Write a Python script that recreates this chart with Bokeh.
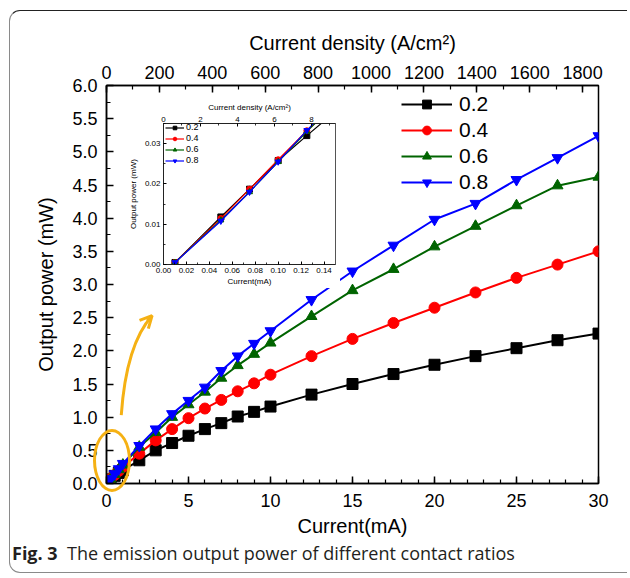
import numpy as np
from bokeh.plotting import figure
from bokeh.models import (LinearAxis, Range1d, SingleIntervalTicker, Legend, LegendItem,
                          Arrow, OpenHead, NumeralTickFormatter, Div)
from bokeh.layouts import column
from bokeh.embed import file_html
from bokeh.resources import INLINE

# ---------------- data ----------------
current_mA = [0.01, 0.05, 0.075, 0.1, 0.125, 0.25, 0.5, 0.75, 1, 2, 3, 4, 5, 6, 7, 8, 9, 10,
              12.5, 15, 17.5, 20, 22.5, 25, 27.5, 30]
power_02 = [0.0005, 0.0118, 0.0187, 0.0258, 0.032, 0.062, 0.115, 0.16, 0.20, 0.35, 0.50, 0.61,
            0.72, 0.82, 0.91, 1.01, 1.08, 1.16, 1.34, 1.50, 1.65, 1.79, 1.92, 2.04, 2.16, 2.26]
power_04 = [0.0005, 0.0114, 0.0187, 0.026, 0.0332, 0.066, 0.13, 0.19, 0.25, 0.45, 0.65, 0.82,
            0.985, 1.13, 1.26, 1.39, 1.51, 1.64, 1.92, 2.18, 2.42, 2.65, 2.88, 3.10, 3.30, 3.50]
power_06 = [0.0005, 0.011, 0.018, 0.0255, 0.033, 0.068, 0.14, 0.21, 0.28, 0.55, 0.77, 1.00,
            1.19, 1.38, 1.59, 1.78, 1.95, 2.12, 2.52, 2.91, 3.23, 3.57, 3.88, 4.19, 4.49, 4.62]
power_08 = [0.0005, 0.0108, 0.018, 0.0255, 0.0333, 0.070, 0.145, 0.22, 0.30, 0.57, 0.82, 1.05,
            1.25, 1.45, 1.70, 1.92, 2.11, 2.30, 2.77, 3.20, 3.59, 3.98, 4.22, 4.58, 4.91, 5.24]
ratio_labels = ["0.2", "0.4", "0.6", "0.8"]
series = [power_02, power_04, power_06, power_08]
colors = ["#000000", "#ff0000", "#006400", "#0000ff"]
markers = ["square", "circle", "triangle", "inverted_triangle"]
density_per_mA = 62.0   # A/cm^2 per mA (top axis conversion)
caption_bold = "Fig. 3"
caption_text = "The emission output power of different contact ratios"

FONT = "Liberation Sans"
ORANGE = "#f5b114"


def style_axis(ax, size, label_size, tick_len=7, minor_len=4):
    ax.major_tick_in = tick_len
    ax.major_tick_out = 0
    ax.minor_tick_in = minor_len
    ax.minor_tick_out = 0
    ax.axis_line_width = 1.5
    ax.major_tick_line_width = 1.5
    ax.minor_tick_line_width = 1.2
    ax.major_label_text_font = FONT
    ax.major_label_text_font_size = size
    ax.major_label_text_color = "#000000"
    ax.axis_label_text_font = FONT
    ax.axis_label_text_font_size = label_size
    ax.axis_label_text_font_style = "normal"
    ax.axis_label_text_color = "#000000"


# ---------------- main figure ----------------
p = figure(width=630, height=578, output_backend="svg", toolbar_location=None,
           x_range=Range1d(0, 30), y_range=Range1d(0, 6),
           x_axis_location=None, y_axis_location=None,
           min_border_left=106, min_border_right=32, min_border_top=85, min_border_bottom=95)
p.xgrid.visible = False
p.ygrid.visible = False
p.outline_line_color = "#000000"
p.outline_line_width = 1.5
p.background_fill_color = "white"
p.border_fill_color = "white"
p.extra_x_ranges = {"density": Range1d(0, 30 * density_per_mA)}

xb = LinearAxis(axis_label="Current(mA)", ticker=SingleIntervalTicker(interval=5, num_minor_ticks=5))
style_axis(xb, "18px", "20px")
xb.major_label_standoff = 10
xb.axis_label_standoff = 5
p.add_layout(xb, "below")

yl = LinearAxis(axis_label="Output power (mW)", ticker=SingleIntervalTicker(interval=0.5, num_minor_ticks=2),
                formatter=NumeralTickFormatter(format="0.0"))
style_axis(yl, "18px", "20px")
yl.major_label_standoff = 9
yl.axis_label_standoff = 12
p.add_layout(yl, "left")

xt = LinearAxis(x_range_name="density", axis_label="Current density (A/cm²)",
                ticker=SingleIntervalTicker(interval=200, num_minor_ticks=2))
style_axis(xt, "18px", "20px")
xt.major_label_standoff = 7
xt.axis_label_standoff = 9
p.add_layout(xt, "above")

items = []
for lab, ys, c, m in zip(ratio_labels, series, colors, markers):
    r1 = p.line(current_mA, ys, line_color=c, line_width=2)
    r2 = p.scatter(current_mA, ys, marker=m, size=11, fill_color=c, line_color=c)
    items.append(LegendItem(label=lab, renderers=[r1, r2]))

leg = Legend(items=items, location=(295, 289), orientation="vertical",
             label_text_font=FONT, label_text_font_size="21px", label_text_color="#000000",
             glyph_width=51, glyph_height=22, label_height=22, label_standoff=7,
             spacing=2, padding=0, margin=0, border_line_color=None, background_fill_alpha=0)
p.add_layout(leg, "center")

# curved orange arrow
p.quadratic(x0=[0.9], y0=[1.03], x1=[2.78], y1=[2.53], cx=[1.2], cy=[2.1],
            line_color=ORANGE, line_width=3)
p.add_layout(Arrow(end=OpenHead(size=12, line_color=ORANGE, line_width=3),
                   x_start=2.48, y_start=2.45, x_end=2.78, y_end=2.53,
                   line_color=ORANGE, line_width=3))

# ---------------- inset ----------------
q = figure(width=215, height=190, output_backend="svg", toolbar_location=None,
           x_range=Range1d(0, 0.15), y_range=Range1d(0, 0.035),
           x_axis_location=None, y_axis_location=None,
           min_border_left=37, min_border_right=5, min_border_top=25, min_border_bottom=24)
q.xgrid.visible = False
q.ygrid.visible = False
q.outline_line_color = "#555555"
q.outline_line_width = 1
q.background_fill_color = "white"
q.border_fill_color = "white"
q.extra_x_ranges = {"density": Range1d(0, 0.15 * density_per_mA)}


def style_small(ax):
    style_axis(ax, "8px", "8px", tick_len=3, minor_len=2)
    ax.axis_line_width = 1
    ax.major_tick_line_width = 1
    ax.minor_tick_line_width = 0.8
    ax.axis_line_color = "#222222"


qb = LinearAxis(axis_label="Current(mA)", ticker=SingleIntervalTicker(interval=0.02, num_minor_ticks=2),
                formatter=NumeralTickFormatter(format="0.00"))
style_small(qb)
qb.major_label_standoff = 3
qb.axis_label_standoff = 1
q.add_layout(qb, "below")

ql = LinearAxis(axis_label="Output power (mW)", ticker=SingleIntervalTicker(interval=0.01, num_minor_ticks=2),
                formatter=NumeralTickFormatter(format="0.00"))
style_small(ql)
ql.major_label_standoff = 3
ql.axis_label_standoff = 4
q.add_layout(ql, "left")

qt = LinearAxis(x_range_name="density", axis_label="Current density (A/cm²)",
                ticker=SingleIntervalTicker(interval=2, num_minor_ticks=2))
style_small(qt)
qt.major_label_standoff = 2
qt.axis_label_standoff = 2
q.add_layout(qt, "above")

qitems = []
for lab, ys, c, m in zip(ratio_labels, series, colors, markers):
    r1 = q.line(current_mA, ys, line_color=c, line_width=1.2)
    r2 = q.scatter(current_mA, ys, marker=m, size=6, fill_color=c, line_color=c)
    qitems.append(LegendItem(label=lab, renderers=[r1, r2]))
qleg = Legend(items=qitems, location=(2, 99), orientation="vertical",
              label_text_font=FONT, label_text_font_size="9px", label_text_color="#000000",
              glyph_width=19, glyph_height=9, label_height=9, label_standoff=2,
              spacing=1, padding=0, margin=0, border_line_color=None, background_fill_alpha=0)
q.add_layout(qleg, "center")

# wrap the inset in its own box so its frame is not aligned with the main plot's frame
inset_box = column(q, styles={"position": "absolute", "left": "125px", "top": "98px"})

# ---------------- decorations (HTML overlays) ----------------
ellipse_div = Div(text="", width=38, height=63, margin=0,
                  styles={"position": "absolute", "left": "93px", "top": "429px",
                          "border": "3px solid " + ORANGE, "border-radius": "50%",
                          "pointer-events": "none"})

caption_div = Div(text="<b>" + caption_bold + "</b>&nbsp;&nbsp;" + caption_text,
                  width=600, height=26, margin=0,
                  styles={"position": "absolute", "left": "12px", "top": "541px",
                          "font-family": "'Open Sans'", "font-size": "18px",
                          "color": "#231f20", "white-space": "nowrap"})

frame_div = Div(text="", width=618, height=563, margin=0,
                styles={"position": "absolute", "left": "9px", "top": "10px",
                        "border-top": "1.5px solid #222222", "border-left": "1.5px solid #8a8a8a",
                        "border-bottom": "1.5px solid #8a8a8a",
                        "border-radius": "11px 0 0 11px", "pointer-events": "none"})

layout = column(p, inset_box, ellipse_div, caption_div, frame_div)
open("out.html", "w").write(file_html(layout, INLINE))
